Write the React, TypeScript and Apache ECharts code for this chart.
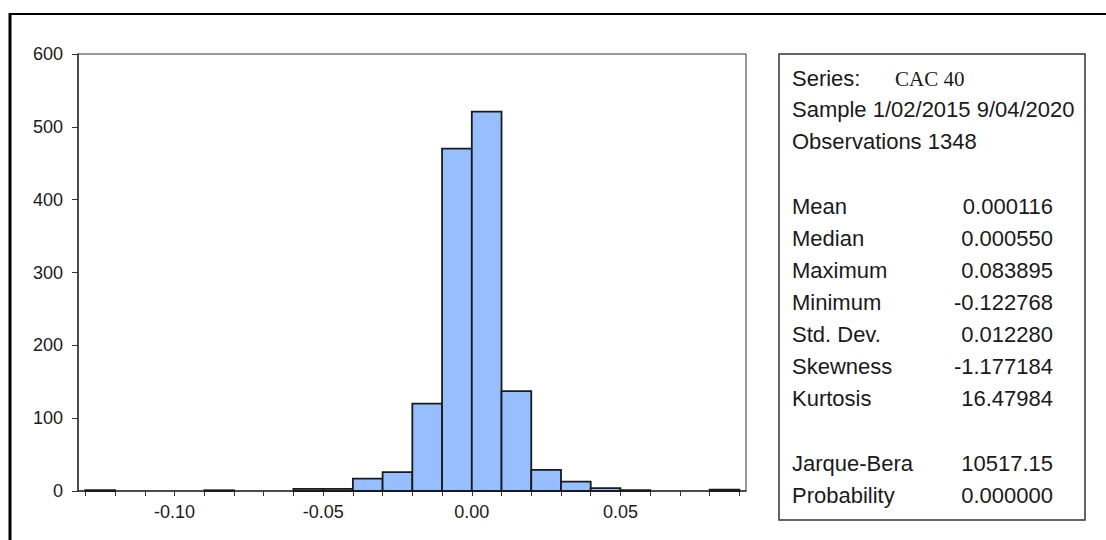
import React, { useEffect, useRef } from "react";
import * as echarts from "echarts";

// Histogram bins (left edge, right edge) and frequencies
const binLow = [-0.13, -0.12, -0.11, -0.10, -0.09, -0.08, -0.07, -0.06, -0.05, -0.04, -0.03, -0.02, -0.01, 0.0, 0.01, 0.02, 0.03, 0.04, 0.05, 0.06, 0.07, 0.08];
const binHigh = [-0.12, -0.11, -0.10, -0.09, -0.08, -0.07, -0.06, -0.05, -0.04, -0.03, -0.02, -0.01, 0.0, 0.01, 0.02, 0.03, 0.04, 0.05, 0.06, 0.07, 0.08, 0.09];
const counts = [1, 0, 0, 0, 1, 0, 0, 3, 3, 17, 26, 120, 470, 521, 137, 29, 13, 4, 1, 0, 0, 2];

// Axis ticks and labels
const xTickValues = [-0.13, -0.12, -0.11, -0.10, -0.09, -0.08, -0.07, -0.06, -0.05, -0.04, -0.03, -0.02, -0.01, 0.0, 0.01, 0.02, 0.03, 0.04, 0.05, 0.06, 0.07, 0.08, 0.09];
const xLabelValues = [-0.10, -0.05, 0.0, 0.05];
const xMin = -0.13246;
const xMax = 0.09223;
const yMin = 0;
const yMax = 600;
const yInterval = 100;

// Statistics panel
const seriesName = "CAC 40";
const sampleText = "Sample 1/02/2015 9/04/2020";
const observationsText = "Observations 1348";
const statLabels = ["Mean", "Median", "Maximum", "Minimum", "Std. Dev.", "Skewness", "Kurtosis"];
const statValues = ["0.000116", "0.000550", "0.083895", "-0.122768", "0.012280", "-1.177184", "16.47984"];
const testLabels = ["Jarque-Bera", "Probability"];
const testValues = ["10517.15", "0.000000"];

const SANS = "'Liberation Sans', Arial, sans-serif";
const SERIF = "'Liberation Serif', 'Times New Roman', serif";
const TXT = "#1a1a1a";

export default function App() {
  const ref = useRef<HTMLDivElement>(null);

  useEffect(() => {
    if (!ref.current) return;
    const chart = echarts.init(ref.current, undefined, { renderer: "svg" });

    const data = binLow.map((lo, i) => [lo, binHigh[i], counts[i]]);

    const panelX = 792;
    const valueX = 1053;
    const font = `22px ${SANS}`;
    const texts: any[] = [];
    const addText = (text: string, x: number, y: number, align: string, f: string = font) => {
      texts.push({
        type: "text",
        silent: true,
        style: { text, x, y, font: f, fill: TXT, align, verticalAlign: "middle" },
      });
    };
    addText("Series:", panelX, 78, "left");
    addText(seriesName, 895, 79, "left", `21px ${SERIF}`);
    addText(sampleText, panelX, 109, "left");
    addText(observationsText, panelX, 141, "left");
    statLabels.forEach((l, i) => {
      addText(l, panelX, 206 + 32 * i, "left");
      addText(statValues[i], valueX, 206 + 32 * i, "right");
    });
    testLabels.forEach((l, i) => {
      addText(l, panelX, 463 + 32 * i, "left");
      addText(testValues[i], valueX, 463 + 32 * i, "right");
    });

    chart.setOption({
      animation: false,
      backgroundColor: "#ffffff",
      grid: {
        left: 78,
        right: 360,
        top: 54,
        bottom: 49,
        show: true,
        borderColor: "#333333",
        borderWidth: 1,
        backgroundColor: "transparent",
      },
      xAxis: {
        type: "value",
        min: xMin,
        max: xMax,
        axisLine: { show: true, onZero: false, lineStyle: { color: "#333333", width: 1.5 } },
        axisTick: {
          show: true,
          length: 5,
          customValues: xTickValues,
          lineStyle: { color: "#333333", width: 1 },
        },
        axisLabel: {
          customValues: xLabelValues,
          formatter: (v: number) => v.toFixed(2),
          fontFamily: SANS,
          fontSize: 18,
          color: TXT,
          margin: 12,
        },
        splitLine: { show: false },
      },
      yAxis: {
        type: "value",
        min: yMin,
        max: yMax,
        interval: yInterval,
        axisLine: { show: true, onZero: false, lineStyle: { color: "#333333", width: 1.5 } },
        axisTick: { show: true, length: 6, lineStyle: { color: "#333333", width: 1 } },
        axisLabel: {
          fontFamily: SANS,
          fontSize: 18,
          color: TXT,
          margin: 15,
          padding: [0, 0, 8, 0],
        },
        splitLine: { show: false },
      },
      series: [
        {
          type: "custom",
          data,
          encode: { x: [0, 1], y: 2 },
          renderItem: (params: any, api: any) => {
            const lo = api.value(0);
            const hi = api.value(1);
            const c = api.value(2);
            if (!c) return null;
            const p0 = api.coord([lo, c]);
            const p1 = api.coord([hi, 0]);
            return {
              type: "rect",
              shape: { x: p0[0], y: p0[1], width: p1[0] - p0[0], height: p1[1] - p0[1] },
              style: { fill: "#97BFFF", stroke: "#1a1a1a", lineWidth: 1.8 },
            };
          },
        },
      ],
      graphic: [
        {
          type: "line",
          silent: true,
          shape: { x1: 10, y1: 14, x2: 1106, y2: 14 },
          style: { stroke: "#000000", lineWidth: 2 },
        },
        {
          type: "line",
          silent: true,
          shape: { x1: 10, y1: 13, x2: 10, y2: 540 },
          style: { stroke: "#000000", lineWidth: 3 },
        },
        {
          type: "rect",
          silent: true,
          shape: { x: 779, y: 54, width: 306, height: 466 },
          style: { fill: "transparent", stroke: "#333333", lineWidth: 1.5 },
        },
        ...texts,
      ],
    });

    return () => chart.dispose();
  }, []);

  return (
    <div
      ref={ref}
      style={{ position: "absolute", left: 0, top: 0, width: 1106, height: 540 }}
    />
  );
}
